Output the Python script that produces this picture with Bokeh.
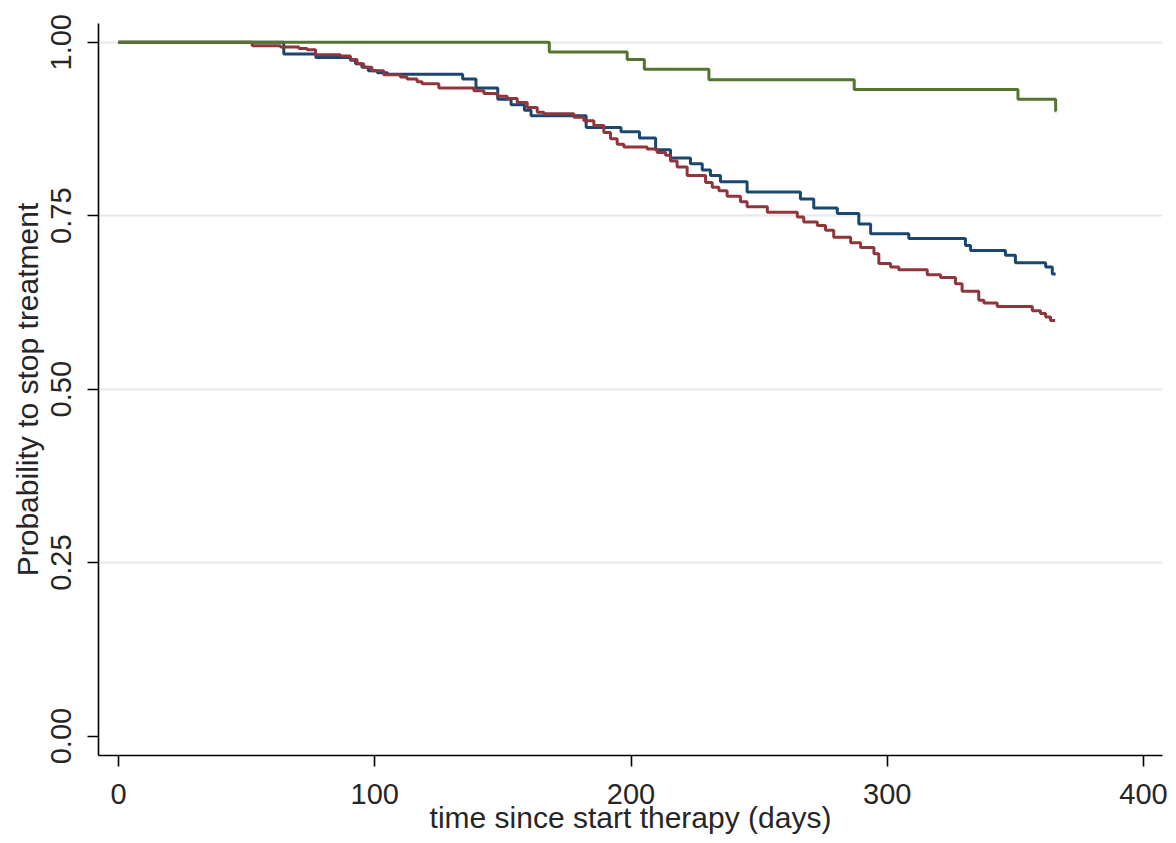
from bokeh.plotting import figure
from bokeh.models import Range1d, FixedTicker
from bokeh.embed import file_html
from bokeh.resources import INLINE

# ---- data ----
x_ticks = [0, 100, 200, 300, 400]
x_tick_labels = ["0", "100", "200", "300", "400"]
y_ticks = [0.0, 0.25, 0.5, 0.75, 1.0]
y_tick_labels = ["0.00", "0.25", "0.50", "0.75", "1.00"]
y_grid = [0.25, 0.5, 0.75, 1.0]

blue_t = [0, 64.5, 77.0, 90.5, 92.5, 95.0, 97.5, 101.0, 105.0, 134.3, 139.5, 148.0, 153.2,
          158.4, 161.0, 182.5, 196.1, 203.3, 209.6, 215.4, 223.2, 227.8, 231.0, 234.9, 245.3,
          266.1, 271.3, 280.5, 288.9, 293.5, 308.4, 330.5, 332.5, 346.1, 350.0, 361.8, 364.4, 365.7]
blue_s = [1.0, 0.983, 0.978, 0.974, 0.969, 0.964, 0.959, 0.956, 0.954, 0.947, 0.934, 0.918, 0.910,
          0.902, 0.894, 0.877, 0.871, 0.862, 0.845, 0.833, 0.825, 0.816, 0.808, 0.799, 0.784,
          0.774, 0.761, 0.753, 0.738, 0.724, 0.717, 0.707, 0.700, 0.693, 0.682, 0.676, 0.666, 0.666]

red_t = [0, 52.2, 63.2, 70.4, 73.6, 76.9, 86.6, 90.5, 93.1, 95.7, 98.9, 103.5, 110.0, 112.6,
         116.5, 118.5, 125.0, 138.7, 142.6, 147.8, 151.7, 155.6, 159.5, 163.4, 166.0, 177.7,
         181.6, 185.5, 189.4, 192.0, 194.6, 197.2, 206.3, 210.2, 213.5, 215.4, 218.0, 221.9,
         229.1, 231.7, 234.3, 237.5, 242.7, 245.3, 253.2, 264.9, 267.4, 272.7, 275.9, 279.1,
         285.7, 289.6, 294.8, 296.7, 301.3, 304.5, 315.6, 320.8, 326.6, 329.2, 335.7, 337.7,
         342.9, 356.6, 359.8, 361.8, 363.7, 365.5]
red_s = [1.0, 0.995, 0.993, 0.991, 0.989, 0.982, 0.980, 0.975, 0.969, 0.964, 0.959, 0.953, 0.950,
         0.947, 0.943, 0.940, 0.934, 0.930, 0.926, 0.922, 0.919, 0.913, 0.906, 0.899, 0.897,
         0.892, 0.887, 0.880, 0.870, 0.861, 0.853, 0.849, 0.846, 0.841, 0.837, 0.829, 0.820,
         0.808, 0.798, 0.791, 0.786, 0.778, 0.770, 0.763, 0.755, 0.748, 0.741, 0.736, 0.729,
         0.719, 0.711, 0.704, 0.695, 0.681, 0.676, 0.672, 0.665, 0.661, 0.652, 0.641, 0.628,
         0.624, 0.619, 0.613, 0.609, 0.604, 0.599, 0.599]

green_t = [0, 168.1, 198.5, 205.2, 230.4, 287.1, 351.0, 365.7, 366.0]
green_s = [1.0, 0.986, 0.975, 0.961, 0.946, 0.932, 0.918, 0.901, 0.901]

FONT = "Liberation Sans"
TXT = "#262626"

p = figure(width=1170, height=843, output_backend="svg", toolbar_location=None,
           x_range=Range1d(-7.8, 407.4), y_range=Range1d(-0.028, 1.027),
           min_border_left=98, min_border_right=8, min_border_top=23, min_border_bottom=88,
           x_axis_label="time since start therapy (days)",
           y_axis_label="Probability to stop treatment")
p.outline_line_color = None
p.background_fill_color = "white"
p.border_fill_color = "white"

# grid
p.xgrid.visible = False
p.ygrid.ticker = FixedTicker(ticks=y_grid)
p.ygrid.grid_line_color = "#e8e8e8"
p.ygrid.grid_line_width = 2

# axes
for ax in (p.xaxis[0], p.yaxis[0]):
    ax.axis_line_color = "black"
    ax.axis_line_width = 1.6
    ax.major_tick_line_color = "black"
    ax.major_tick_line_width = 1.6
    ax.major_tick_in = 0
    ax.major_tick_out = 11
    ax.minor_tick_line_color = None
    ax.major_label_text_font = FONT
    ax.major_label_text_font_size = "29px"
    ax.major_label_text_color = TXT
    ax.axis_label_text_font = FONT
    ax.axis_label_text_font_size = "30px"
    ax.axis_label_text_font_style = "normal"
    ax.axis_label_text_color = TXT

p.xaxis.ticker = FixedTicker(ticks=x_ticks)
p.xaxis.major_label_overrides = {t: l for t, l in zip(x_ticks, x_tick_labels)}
p.xaxis.major_label_standoff = 17
p.xaxis.axis_label_standoff = -6

p.yaxis.ticker = FixedTicker(ticks=y_ticks)
p.yaxis.major_label_overrides = {t: l for t, l in zip(y_ticks, y_tick_labels)}
p.yaxis.major_label_orientation = "vertical"
p.yaxis.major_label_standoff = 16
p.yaxis.axis_label_standoff = 5

# survival curves (drawn in Stata order: navy, maroon, forest green)
p.step(blue_t, blue_s, mode="after", line_color="#1a476f", line_width=3)
p.step(red_t, red_s, mode="after", line_color="#90353b", line_width=3)
p.step(green_t, green_s, mode="after", line_color="#55752f", line_width=3)

open("out.html", "w").write(file_html(p, INLINE))
